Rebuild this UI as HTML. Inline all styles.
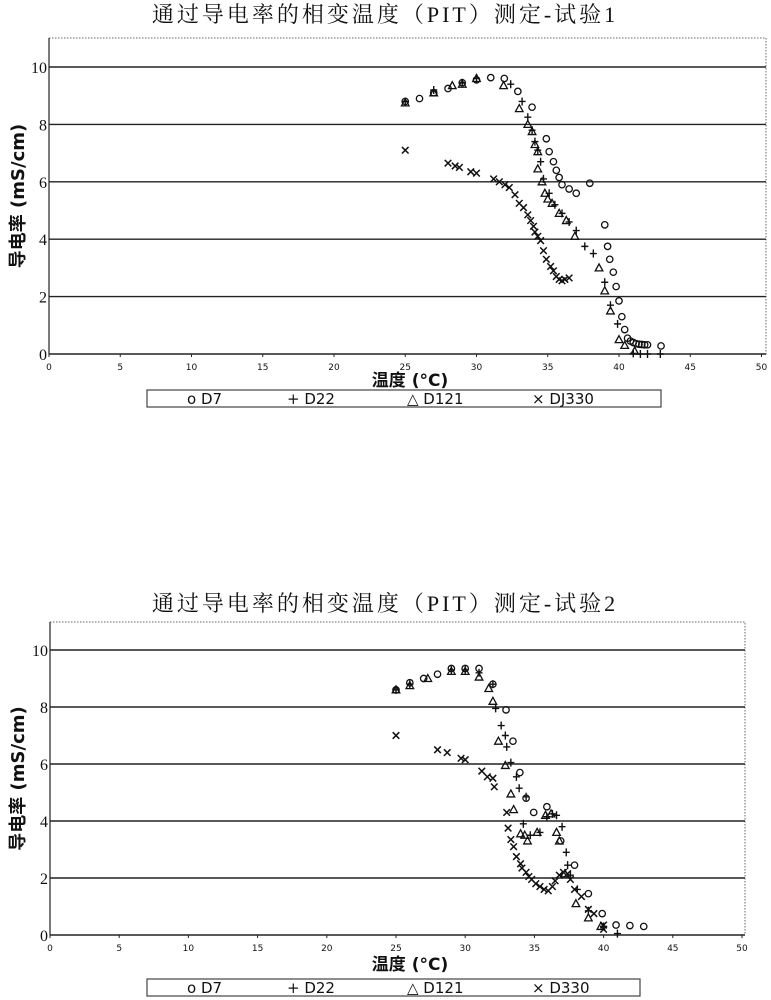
<!DOCTYPE html>
<html><head><meta charset="utf-8">
<style>
body{margin:0;background:#fff;width:771px;height:1000px;overflow:hidden}
svg{display:block}
</style></head>
<body>
<svg id="svg" width="771" height="1000" xmlns="http://www.w3.org/2000/svg"></svg>
<script>
// ---- Chart 1 data ----
const c1_D7_x=[25,26,27,28,29,30,31,31.95,32.9,33.9,34.9,35.1,35.4,35.6,35.8,36,36.5,37,37.95,39,39.2,39.35,39.6,39.8,40,40.2,40.4,40.6,40.8,41,41.2,41.4,41.6,41.8,42,42.95];
const c1_D7_y=[8.8,8.9,9.1,9.25,9.45,9.55,9.63,9.6,9.15,8.6,7.5,7.05,6.7,6.4,6.15,5.9,5.75,5.6,5.95,4.5,3.75,3.3,2.85,2.35,1.85,1.3,0.85,0.55,0.45,0.4,0.36,0.34,0.33,0.32,0.32,0.28];
const c1_D22_x=[25,27,29,30,32.4,33.2,33.6,33.9,34.1,34.3,34.5,34.7,35.1,35.5,36,36.5,37,37.6,38.2,39,39.4,39.9,41,41.5,42,42.9];
const c1_D22_y=[8.8,9.2,9.45,9.6,9.4,8.8,8.25,7.8,7.4,7.1,6.7,6.1,5.6,5.2,4.9,4.6,4.3,3.75,3.5,2.5,1.7,1.05,0.02,0,0,0];
const c1_D121_x=[25,27,28.3,29,30,31.9,33,33.6,33.9,34.1,34.3,34.3,34.6,34.8,35,35.3,35.8,36.3,36.9,38.6,39,39.4,40,40.4,41.1];
const c1_D121_y=[8.75,9.1,9.35,9.4,9.6,9.35,8.55,8,7.75,7.3,7.05,6.45,6,5.6,5.4,5.25,4.9,4.65,4.1,3,2.2,1.5,0.5,0.3,0.1];
const c1_DJ330_x=[25,28,28.5,28.8,29.6,30,31.2,31.6,32,32.3,32.7,33,33.3,33.6,33.8,34,34.1,34.3,34.5,34.7,34.9,35.2,35.4,35.6,35.8,36,36.2,36.5];
const c1_DJ330_y=[7.1,6.65,6.55,6.5,6.35,6.3,6.1,6,5.9,5.8,5.55,5.25,5.1,4.85,4.65,4.45,4.25,4.1,3.95,3.6,3.3,3.05,2.9,2.7,2.6,2.55,2.6,2.65];
// ---- Chart 2 data ----
const c2_D7_x=[25,26,27,28,29,30,31,32,32.95,33.45,33.95,34.4,34.95,35.9,36.9,37.9,38.9,39.9,40.9,41.9,42.9];
const c2_D7_y=[8.6,8.85,9,9.15,9.35,9.35,9.35,8.8,7.9,6.8,5.7,4.8,4.3,4.5,3.3,2.45,1.45,0.75,0.35,0.33,0.3];
const c2_D22_x=[25,26,29,30,31,32,32.2,32.6,32.9,33,33.3,33.7,33.9,34.4,34.2,34.7,35.4,35.9,36.3,36.6,37,37.3,37.4,37.6,38.1,38.9,40,41];
const c2_D22_y=[8.6,8.8,9.3,9.3,9.2,8.8,7.95,7.35,7,6.6,6.05,5.55,5.15,4.85,3.9,3.5,3.6,4.15,4.25,4.2,3.8,2.9,2.45,2.1,1.6,0.85,0.3,0.05];
const c2_D121_x=[25,26,27.3,29,30,31,31.7,32,32.4,32.9,33.3,33.5,34,34.3,34.5,35.2,35.8,36.2,36.6,36.8,37.2,38,38.9,39.8];
const c2_D121_y=[8.6,8.75,9,9.25,9.25,9.05,8.65,8.2,6.8,5.95,4.95,4.4,3.55,3.5,3.3,3.6,4.2,4.25,3.6,3.3,2.15,1.1,0.6,0.3];
const c2_D330_x=[25,28,28.7,29.7,30,31.2,31.6,32,32.1,33,33.1,33.3,33.5,33.7,34,34.1,34.4,34.6,34.8,35.1,35.4,35.7,36,36.3,36.5,36.8,37.1,37.4,37.6,37.9,38.4,38.9,39.3,40,40];
const c2_D330_y=[7,6.5,6.4,6.2,6.15,5.75,5.55,5.5,5.2,4.3,3.75,3.35,3.1,2.75,2.5,2.35,2.2,2.05,1.95,1.8,1.7,1.6,1.55,1.7,1.9,2.1,2.2,2.15,1.95,1.6,1.35,0.9,0.75,0.35,0.2];
const xTicks=[0,5,10,15,20,25,30,35,40,45,50];
const yTicks=[0,2,4,6,8,10];

const NS="http://www.w3.org/2000/svg";
const svg=document.getElementById('svg');
function mk(tag,attrs,parent){const e=document.createElementNS(NS,tag);for(const k in attrs)e.setAttribute(k,attrs[k]);(parent||svg).appendChild(e);return e;}

function marker(g,type,cx,cy){
  let e;
  if(type==='circle'){e=mk('circle',{cx:cx,cy:cy,r:3.2,fill:'none',stroke:'#111','stroke-width':1.3},g);}
  else if(type==='plus'){e=mk('path',{d:`M${cx-3.5},${cy}H${cx+3.5}M${cx},${cy-4}V${cy+4}`,stroke:'#111','stroke-width':1.4,fill:'none'},g);}
  else if(type==='tri'){e=mk('path',{d:`M${cx},${cy-4}L${cx+3.8},${cy+3}L${cx-3.8},${cy+3}Z`,stroke:'#111','stroke-width':1.3,fill:'none'},g);}
  else {e=mk('path',{d:`M${cx-3.3},${cy-3.3}L${cx+3.3},${cy+3.3}M${cx-3.3},${cy+3.3}L${cx+3.3},${cy-3.3}`,stroke:'#111','stroke-width':1.5,fill:'none'},g);}
  return e;
}

function chart(cfg){
  const {id,L,R,T,B,x0,xs,y0,ys,title,ty,series,legY,legL,legR,legNames,xtitleY}=cfg;
  const X=v=>x0+v*xs, Y=v=>y0-v*ys;
  const g=mk('g',{});
  
  
  const t=mk('text',{x:385,y:ty,'text-anchor':'middle','font-size':22,'letter-spacing':3,'font-family':'"Liberation Serif","Noto Serif CJK SC",serif',fill:'#111'},g);
  t.textContent=title;
  
  
  const box=mk('rect',{x:L,y:T,width:R-L,height:B-T,fill:'none',stroke:'#666','stroke-width':1,'stroke-dasharray':'1.5,1.5'},g);
  
  
  yTicks.forEach(v=>{
    const ln=mk('line',{x1:L,x2:R,y1:Y(v),y2:Y(v),stroke:'#222','stroke-width':1.4},g);
    
    
    const tx=mk('text',{x:L-2,y:Y(v)+6,'text-anchor':'end','font-size':16,'font-family':'"Liberation Serif",serif',fill:'#111'},g);
    tx.textContent=v;
    
    
  });
  mk('line',{x1:L,x2:L,y1:T,y2:B,stroke:'#222','stroke-width':1.2},g);
  xTicks.forEach(v=>{
    mk('line',{x1:X(v),x2:X(v),y1:B,y2:B+3,stroke:'#222'},g);
    const tx=mk('text',{x:X(v),y:B+16,'text-anchor':'middle','font-size':9,'font-family':'"DejaVu Sans",sans-serif',fill:'#111'},g);
    tx.textContent=v;
    
    
  });
  const yt=mk('text',{x:0,y:0,'text-anchor':'middle','font-size':18,'font-weight':'bold','font-family':'"DejaVu Sans","Noto Sans CJK SC",sans-serif',fill:'#111',transform:`translate(24,${(T+B)/2}) rotate(-90)`},g);
  yt.textContent='导电率 (mS/cm)';
  
  
  const xt=mk('text',{x:410,y:xtitleY,'text-anchor':'middle','font-size':17,'font-weight':'bold','font-family':'"DejaVu Sans","Noto Sans CJK SC",sans-serif',fill:'#111'},g);
  xt.textContent='温度 (°C)';
  
  
  series.forEach(s=>{
    const sg=mk('g',{},g);
    
    
    s.x.forEach((xv,i)=>{
      const m=marker(sg,s.type,X(xv),Y(s.y[i]));
      
      
    });
  });
  const lg=mk('g',{},g);
  
  
  mk('rect',{x:legL,y:legY,width:legR-legL,height:17,fill:'#fff',stroke:'#444','stroke-width':1.2},lg);
  const glyph={circle:'○',plus:'+',tri:'△',x:'×'};
  const pos=[legL+40,legL+140,legL+260,legL+385];
  series.forEach((s,i)=>{
    const tx=mk('text',{x:pos[i],y:legY+14,'font-size':15,'font-family':'"DejaVu Sans",sans-serif',fill:'#111'},lg);
    tx.textContent=(s.type==='circle'?'o':glyph[s.type])+' '+legNames[i];
    
    
  });
}

chart({id:'chart-trial-1',L:49,R:766,T:38,B:354,x0:49,xs:14.25,y0:354,ys:28.7,title:'通过导电率的相变温度（PIT）测定-试验1',ty:22,
  series:[{name:'D7',type:'circle',x:c1_D7_x,y:c1_D7_y},{name:'D22',type:'plus',x:c1_D22_x,y:c1_D22_y},{name:'D121',type:'tri',x:c1_D121_x,y:c1_D121_y},{name:'DJ330',type:'x',x:c1_DJ330_x,y:c1_DJ330_y}],
  legY:390,legL:147,legR:661,legNames:['D7','D22','D121','DJ330'],xtitleY:386});
chart({id:'chart-trial-2',L:50,R:745,T:622,B:935,x0:50,xs:13.84,y0:935,ys:28.5,title:'通过导电率的相变温度（PIT）测定-试验2',ty:611,
  series:[{name:'D7',type:'circle',x:c2_D7_x,y:c2_D7_y},{name:'D22',type:'plus',x:c2_D22_x,y:c2_D22_y},{name:'D121',type:'tri',x:c2_D121_x,y:c2_D121_y},{name:'D330',type:'x',x:c2_D330_x,y:c2_D330_y}],
  legY:979,legL:147,legR:640,legNames:['D7','D22','D121','D330'],xtitleY:970});
</script>
</body></html>
